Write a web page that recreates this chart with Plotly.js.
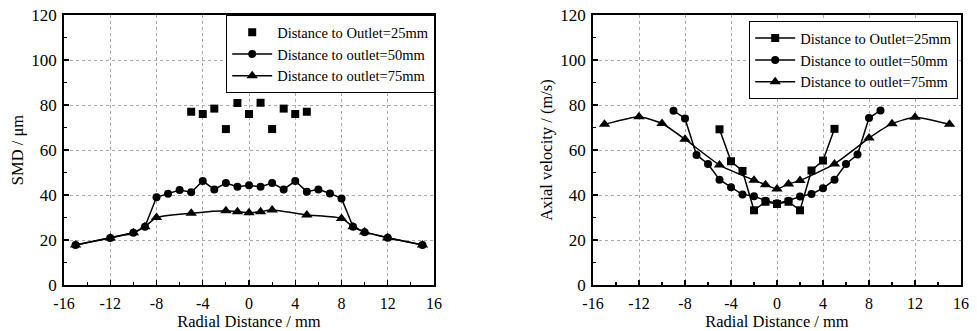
<!DOCTYPE html>
<html>
<head>
<meta charset="utf-8">
<script src="https://cdn.plot.ly/plotly-3.0.1.min.js"></script>
<style>html,body{margin:0;padding:0;background:#fff;}#chart{width:977px;height:331px;}</style>
</head>
<body>
<div id="chart"></div>
<script>
// ---- Data (left: SMD, right: axial velocity) ----
const xs25L = [-5,-4,-3,-2,-1,0,1,2,3,4,5];
const smd25 = [77,76,78.4,69.3,80.9,76,81,69.3,78.4,76,77];
const xs50L = [-15,-12,-10,-9,-8,-7,-6,-5,-4,-3,-2,-1,0,1,2,3,4,5,6,7,8,9,10,12,15];
const smd50 = [17.8,20.9,23.2,25.9,39,40.6,42.2,41.2,46.2,42.5,45.3,43.7,44.3,43.7,45.3,42.5,46.2,41.5,42.5,40.7,38.5,25.9,23.5,21,17.8];
const xs75L = [-15,-12,-10,-9,-8,-5,-2,-1,0,1,2,5,8,9,10,12,15];
const smd75 = [17.8,20.9,23.2,25.9,30,31.9,33,32.6,32.1,32.6,33.3,31.1,29.6,25.9,23.6,21,17.8];

const xs25R = [-5,-4,-3,-2,-1,0,1,2,3,4,5];
const vel25 = [69.2,55,50.7,33.2,37,36,37,33.2,50.9,55.3,69.4];
const xs50R = [-9,-8,-7,-6,-5,-4,-3,-2,-1,0,1,2,3,4,5,6,7,8,9];
const vel50 = [77.5,74,57.8,53.8,46.8,43.5,40.2,39.5,37.5,36.3,37.5,39.3,40.4,43,46.8,53.8,58,74.2,77.6];
const xs75R = [-15,-12,-10,-8,-5,-2,-1,0,1,2,5,8,10,12,15];
const vel75 = [71.4,74.8,71.8,64.8,53.3,46.6,44.6,42.7,44.9,46.4,53.8,65.3,71.7,74.6,71.4];

const xTickVals = [-16,-12,-8,-4,0,4,8,12,16];
const xTickText = ["-16","-12","-8","-4","0","4","8","12","16"];
const yTickVals = [0,20,40,60,80,100,120];

const names = ["Distance to Outlet=25mm","Distance to outlet=50mm","Distance to outlet=75mm"];
const xTitle = "Radial Distance / mm";
const yTitleL = "SMD / \u03bcm";
const yTitleR = "Axial velocity / (m/s)";

const FONT = "Liberation Serif, Times New Roman, serif";
const ln = {color:'#000', width:1.5};

const traces = [
  {x:xs25L, y:smd25, name:names[0], mode:'markers', marker:{symbol:'square', size:8, color:'#000'}, xaxis:'x', yaxis:'y', legend:'legend'},
  {x:xs50L, y:smd50, name:names[1], mode:'lines+markers', line:ln, marker:{symbol:'circle', size:8, color:'#000'}, xaxis:'x', yaxis:'y', legend:'legend'},
  {x:xs75L, y:smd75, name:names[2], mode:'lines+markers', line:{color:'#000', width:1.5, shape:'spline', smoothing:0.6}, marker:{symbol:'triangle-up', size:10, color:'#000'}, xaxis:'x', yaxis:'y', legend:'legend'},
  {x:xs25R, y:vel25, name:names[0], mode:'lines+markers', line:ln, marker:{symbol:'square', size:8, color:'#000'}, xaxis:'x2', yaxis:'y2', legend:'legend2'},
  {x:xs50R, y:vel50, name:names[1], mode:'lines+markers', line:ln, marker:{symbol:'circle', size:8, color:'#000'}, xaxis:'x2', yaxis:'y2', legend:'legend2'},
  {x:xs75R, y:vel75, name:names[2], mode:'lines+markers', line:{color:'#000', width:1.5, shape:'spline', smoothing:0.5}, marker:{symbol:'triangle-up', size:10, color:'#000'}, xaxis:'x2', yaxis:'y2', legend:'legend2'}
];

function xAxis(domain, anchor){
  return {domain:domain, anchor:anchor, range:[-16,16], tickvals:xTickVals, ticktext:xTickText,
    ticks:'inside', ticklen:5, tickwidth:1.2, tickcolor:'#000', ticklabelstandoff:3,
    minor:{dtick:2, tick0:0, ticks:'inside', ticklen:3, tickcolor:'#000', showgrid:false},
    showline:true, linecolor:'#000', linewidth:1.8, mirror:true,
    showgrid:true, gridcolor:'#aaa', griddash:'dot', gridwidth:1, zeroline:false,
    tickfont:{family:FONT, size:16, color:'#000'},
    title:{text:xTitle, font:{family:FONT, size:16.5, color:'#000'}, standoff:3}};
}
function yAxis(domain, anchor, title){
  return {domain:domain, anchor:anchor, range:[0,120], tickvals:yTickVals,
    ticks:'inside', ticklen:5, tickwidth:1.2, tickcolor:'#000', ticklabelstandoff:2,
    minor:{dtick:10, tick0:0, ticks:'inside', ticklen:3, tickcolor:'#000', showgrid:false},
    showline:true, linecolor:'#000', linewidth:1.8, mirror:true,
    showgrid:true, gridcolor:'#aaa', griddash:'dot', gridwidth:1, zeroline:false,
    tickfont:{family:FONT, size:17, color:'#000'},
    title:{text:title, font:{family:FONT, size:16.5, color:'#000'}, standoff:3}};
}

const legStyle = {font:{family:FONT, size:14.5, color:'#000'}, bgcolor:'#fff', bordercolor:'#000', borderwidth:1.2,
  itemwidth:40, tracegroupgap:0, xanchor:'right', yanchor:'top', itemclick:false};

const layout = {
  width:977, height:331,
  margin:{l:0, r:0, t:15, b:46},
  paper_bgcolor:'#fff', plot_bgcolor:'#fff',
  font:{family:FONT, color:'#000'},
  showlegend:true,
  xaxis: xAxis([64/977, 434/977], 'y'),
  yaxis: yAxis([0,1], 'x', yTitleL),
  xaxis2: xAxis([593/977, 961/977], 'y2'),
  yaxis2: yAxis([0,1], 'x2', yTitleR),
  legend: Object.assign({x:435/977, y:1}, legStyle),
  legend2: Object.assign({x:958/977, y:0.978}, legStyle)
};

Plotly.newPlot('chart', traces, layout, {staticPlot:true, displayModeBar:false});
</script>
</body>
</html>
